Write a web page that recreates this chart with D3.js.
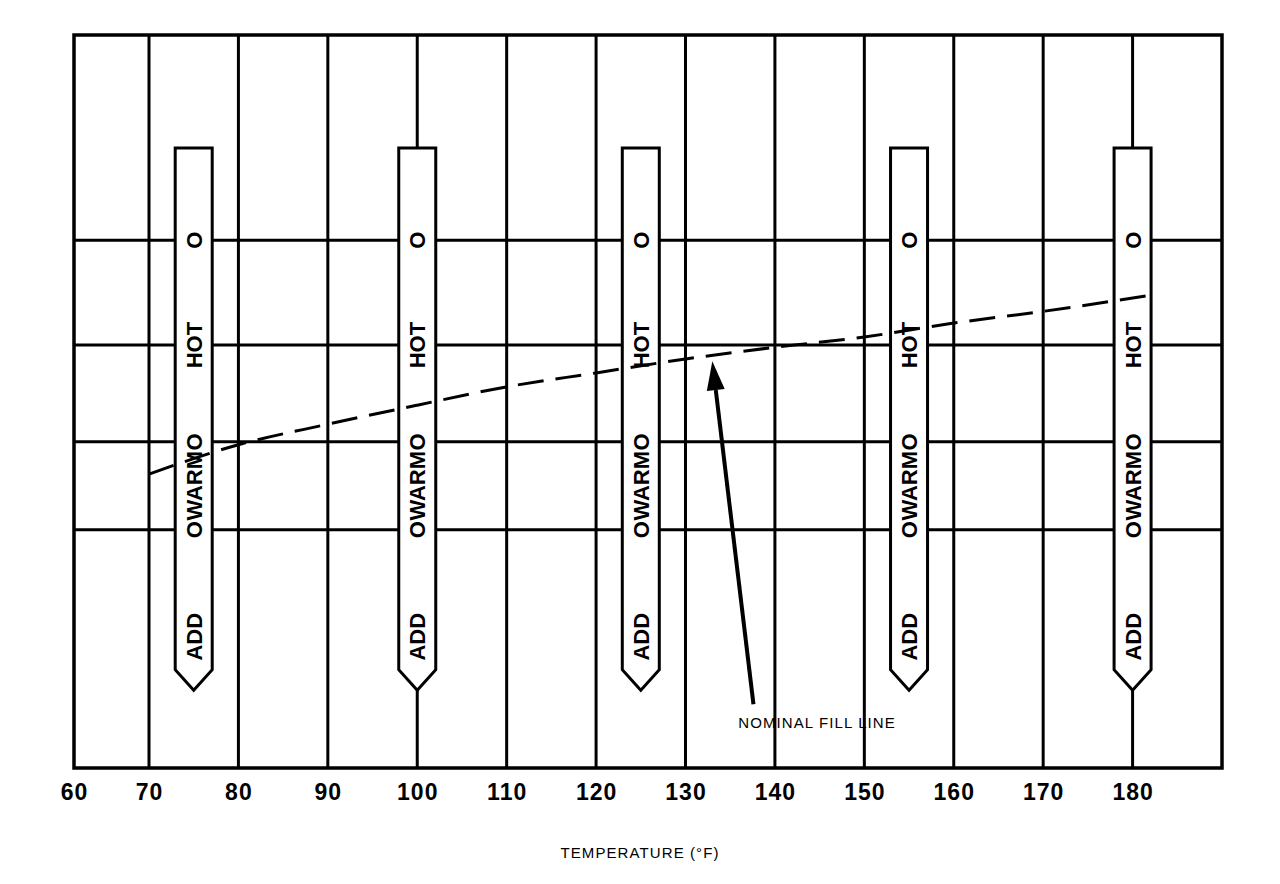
<!DOCTYPE html>
<html>
<head>
<meta charset="utf-8">
<title>Coolant level vs temperature</title>
<script src="https://cdn.jsdelivr.net/npm/d3@7"></script>
<style>
    html, body { margin: 0; padding: 0; background: #fff; }
    svg { display: block; }
    text { font-family: "Liberation Sans", Arial, Helvetica, sans-serif; fill: #000; }
    .tick-label { font-size: 23px; font-weight: bold; letter-spacing: 1px; }
    .stick-label { font-size: 22px; font-weight: bold; }
    .note { font-size: 15px; letter-spacing: 1.1px; }
</style>
</head>
<body>
<svg id="chart" width="1280" height="884"></svg>
<script>
// Data
const xTicks = [60, 70, 80, 90, 100, 110, 120, 130, 140, 150, 160, 170, 180];
const gridTemps = [70, 80, 90, 100, 110, 120, 130, 140, 150, 160, 170, 180];
const gridLevels = [72.0, 57.7, 44.5, 32.5];          // horizontal lines (dipstick marks)
const stickTemps = [75, 100, 125, 155, 180];          // where a dipstick is drawn
const stickText = ['O', 'HOT', 'O', 'WARM', 'O', 'ADD'];
const stickTextLevels = [72.0, 57.7, 44.5, 38.5, 32.5, 17.9];
const fillTemps = [70, 80, 90, 100, 110, 120, 130, 140, 150, 160, 170, 181.5];
const fillLevels = [40.1, 44.1, 46.9, 49.5, 52.0, 53.9, 55.8, 57.4, 58.8, 60.7, 62.3, 64.4];
const arrowFrom = [137.6, 8.7];   // [temp, level]
const arrowTo = [133.0, 55.5];
const noteText = 'NOMINAL FILL LINE';
const notePos = [135.9, 5.5];
const axisTitle = 'TEMPERATURE (\u00B0F)';

// Layout
const plotLeft = 74, plotRight = 1222, plotTop = 35, plotBottom = 768;
const stickHalf = 18.5;       // half width of a dipstick, px
const stickTop = 84.6;        // level units
const stickPointStart = 13.4;
const stickTip = 10.6;

const svg = d3.select('#chart');

// The first interval (60-70) is shorter than the rest on the original
const x = d3.scaleLinear()
    .domain([60, 70, 190])
    .range([plotLeft, plotLeft + 75, plotRight]);

const y = d3.scaleLinear()
    .domain([0, 100])
    .range([plotBottom, plotTop]);

// Grid lines
svg.append('g')
    .selectAll('line')
    .data(gridTemps)
    .enter()
    .append('line')
    .attr('x1', d => x(d))
    .attr('x2', d => x(d))
    .attr('y1', plotTop)
    .attr('y2', plotBottom)
    .attr('stroke', '#000')
    .attr('stroke-width', 3);

svg.append('g')
    .selectAll('line')
    .data(gridLevels)
    .enter()
    .append('line')
    .attr('x1', plotLeft)
    .attr('x2', plotRight)
    .attr('y1', d => y(d))
    .attr('y2', d => y(d))
    .attr('stroke', '#000')
    .attr('stroke-width', 3);

// Dipsticks (bodies cover the grid)
const sticks = svg.append('g')
    .selectAll('g')
    .data(stickTemps)
    .enter()
    .append('g')
    .attr('transform', d => `translate(${x(d)},0)`);

sticks.append('path')
    .attr('fill', '#fff')
    .attr('stroke', '#000')
    .attr('stroke-width', 3)
    .attr('stroke-linejoin', 'miter')
    .attr('d', () => {
        const p = d3.path();
        p.moveTo(-stickHalf, y(stickTop));
        p.lineTo(stickHalf, y(stickTop));
        p.lineTo(stickHalf, y(stickPointStart));
        p.lineTo(0, y(stickTip));
        p.lineTo(-stickHalf, y(stickPointStart));
        p.closePath();
        return p.toString();
    });

// Dashed nominal fill line, drawn over the sticks
const fillData = fillTemps.map((t, i) => [t, fillLevels[i]]);
svg.append('path')
    .datum(fillData)
    .attr('fill', 'none')
    .attr('stroke', '#000')
    .attr('stroke-width', 3)
    .attr('stroke-dasharray', '26,12')
    .attr('d', d3.line()
        .x(d => x(d[0]))
        .y(d => y(d[1]))
        .curve(d3.curveMonotoneX));

// Stick markings
const labels = svg.append('g')
    .selectAll('g')
    .data(stickTemps)
    .enter()
    .append('g')
    .attr('transform', d => `translate(${x(d)},0)`);

stickText.forEach((label, i) => {
    labels.append('text')
        .attr('class', 'stick-label')
        .attr('transform', `translate(0,${y(stickTextLevels[i])}) rotate(-90)`)
        .attr('text-anchor', 'middle')
        .attr('dy', '0.36em')
        .text(label);
});

// Frame
svg.append('rect')
    .attr('x', plotLeft)
    .attr('y', plotTop)
    .attr('width', plotRight - plotLeft)
    .attr('height', plotBottom - plotTop)
    .attr('fill', 'none')
    .attr('stroke', '#000')
    .attr('stroke-width', 3.5);

// Arrow to the fill line
const ax1 = x(arrowFrom[0]), ay1 = y(arrowFrom[1]);
const ax2 = x(arrowTo[0]), ay2 = y(arrowTo[1]);
const ang = Math.atan2(ay2 - ay1, ax2 - ax1);
const headLen = 29, headHalf = 9;
const bx = ax2 - headLen * Math.cos(ang), by = ay2 - headLen * Math.sin(ang);

svg.append('line')
    .attr('x1', ax1).attr('y1', ay1)
    .attr('x2', bx).attr('y2', by)
    .attr('stroke', '#000')
    .attr('stroke-width', 4);

svg.append('path')
    .attr('fill', '#000')
    .attr('d', `M${ax2},${ay2}` +
        `L${bx + headHalf * Math.sin(ang)},${by - headHalf * Math.cos(ang)}` +
        `L${bx - headHalf * Math.sin(ang)},${by + headHalf * Math.cos(ang)}Z`);

svg.append('text')
    .attr('class', 'note')
    .attr('x', x(notePos[0]))
    .attr('y', y(notePos[1]))
    .text(noteText);

// X axis labels
const xAxis = svg.append('g')
    .attr('transform', `translate(0,${plotBottom})`)
    .call(d3.axisBottom(x).tickValues(xTicks).tickSize(0).tickPadding(16).tickFormat(d3.format('d')));
xAxis.select('.domain').remove();
xAxis.selectAll('text')
    .attr('class', 'tick-label')
    .attr('fill', '#000')
    .attr('font-family', null)
    .attr('font-size', null);

svg.append('text')
    .attr('class', 'note')
    .attr('x', 640)
    .attr('y', 858)
    .attr('text-anchor', 'middle')
    .text(axisTitle);
</script>
</body>
</html>
